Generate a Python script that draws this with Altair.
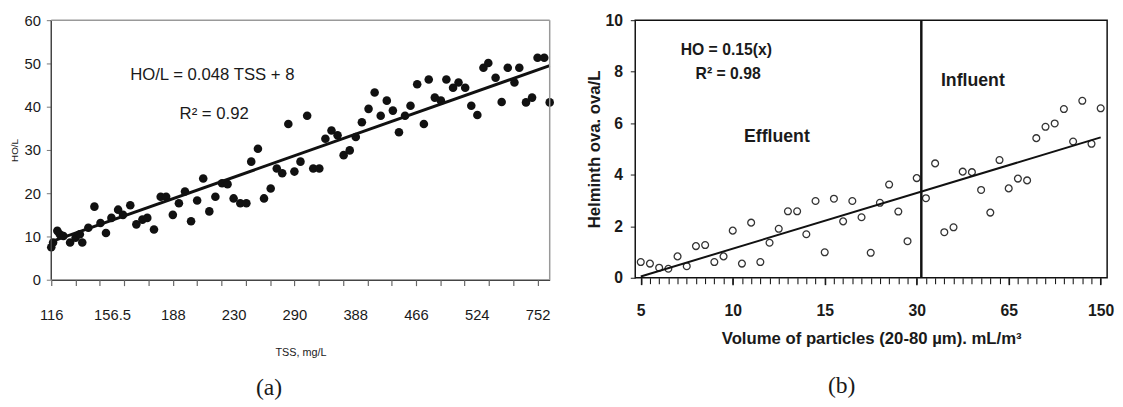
import json
import altair as alt
import pandas as pd

# ---------------- Panel (a): HO/L vs TSS ----------------
a_sample = [0.0, 0.3, 1.0, 1.4, 2.0, 3.1, 4.0, 4.7, 5.1, 6.1,
            7.1, 8.1, 9.0, 9.9, 11.0, 11.8, 13.0, 14.0, 15.0, 15.8,
            16.9, 18.0, 18.9, 20.0, 21.0, 22.0, 23.0, 24.0, 25.0, 26.0,
            27.0, 28.1, 29.0, 30.0, 31.1, 32.1, 32.9, 34.0, 35.0, 36.1,
            37.1, 38.0, 39.0, 40.0, 41.0, 42.1, 43.1, 44.1, 45.1, 46.1,
            47.1, 48.1, 49.1, 50.1, 51.1, 52.2, 53.2, 54.2, 55.2, 56.2,
            57.2, 58.2, 59.1, 60.2, 61.3, 62.1, 63.1, 64.1, 65.0, 66.1,
            67.0, 68.1, 69.1, 70.1, 71.1, 71.9, 73.1, 74.1, 75.1, 76.2,
            77.0, 78.1, 79.1, 80.0, 81.1, 82.0]
a_ho_per_l = [7.5, 8.6, 11.3, 10.5, 10.1, 8.6, 9.7, 10.5, 8.6, 12.0,
              16.9, 13.1, 10.8, 14.3, 16.2, 15.0, 17.2, 12.8, 13.9, 14.3,
              11.6, 19.2, 19.2, 15.0, 17.7, 20.4, 13.5, 18.3, 23.4, 15.8,
              19.2, 22.3, 22.1, 18.8, 17.7, 17.7, 27.3, 30.3, 18.8, 21.1,
              25.7, 24.6, 36.0, 25.0, 27.3, 37.9, 25.7, 25.7, 32.6, 34.5,
              33.4, 28.8, 29.9, 33.0, 36.4, 39.5, 43.3, 37.9, 41.4, 39.1,
              34.1, 37.9, 40.2, 45.2, 36.0, 46.3, 42.1, 41.4, 46.3, 44.4,
              45.6, 44.4, 40.2, 38.1, 49.0, 50.1, 46.7, 41.1, 49.0, 45.6,
              49.0, 41.0, 42.1, 51.3, 51.3, 41.0]
a_tss_labels = ["116", "156.5", "188", "230", "290", "388", "466", "524", "752"]
a_label_at = [0, 10, 20, 30, 40, 50, 60, 70, 80]
a_tick_at = list(range(0, 81, 4))
a_fit_sample = [0, 82]
a_fit_ho = [8.8, 49.5]
a_eq_text = ["HO/L = 0.048 TSS + 8", "R² = 0.92"]
a_eq_sample = [26.5, 26.8]
a_eq_ho = [47.4, 38.2]
a_x_max = 82
a_y_top = 60

# ---------------- Panel (b): Helminth ova vs particle volume ----------------
b_volume_labels = ["5", "10", "15", "30", "65", "150"]
b_label_at = [0, 10, 20, 30, 40, 50]
b_sample = list(range(51))
b_ova = [0.61, 0.55, 0.39, 0.35, 0.83, 0.45, 1.23, 1.27, 0.61, 0.83,
         1.83, 0.55, 2.14, 0.61, 1.36, 1.90, 2.58, 2.58, 1.69, 2.98,
         0.99, 3.07, 2.19, 2.98, 2.35, 0.97, 2.91, 3.62, 2.57, 1.42,
         3.87, 3.09, 4.44, 1.77, 1.96, 4.12, 4.10, 3.41, 2.53, 4.57,
         3.47, 3.85, 3.78, 5.42, 5.86, 5.99, 6.55, 5.29, 6.87, 5.20,
         6.58]
b_fit_sample = [0, 50]
b_fit_ova = [0.05, 5.45]
b_split_sample = 30.5
b_eq_text = ["HO = 0.15(x)", "R² = 0.98"]
b_eq_sample = [9.3, 9.5]
b_eq_ova = [8.83, 7.9]
b_zone_text = ["Effluent", "Influent"]
b_zone_sample = [14.8, 36.1]
b_zone_ova = [5.45, 7.63]

SANS = "Liberation Sans, Arial, sans-serif"
SERIF = "Liberation Serif, Times New Roman, serif"
INK = "#1a1a1a"

# ---------------- build panel (a) ----------------
xa = alt.Scale(domain=[0, a_x_max], nice=False, zero=False)
ya = alt.Scale(domain=[0, a_y_top], nice=False, zero=True)

a_label_expr = json.dumps(a_tss_labels) + "[round(datum.value / 10)]"

a_df = pd.DataFrame({"sample": a_sample, "ho": a_ho_per_l})
a_points = alt.Chart(a_df).mark_circle(size=76, color="#111111", opacity=1).encode(
    x=alt.X("sample:Q", scale=xa,
            axis=alt.Axis(values=a_label_at, labelExpr=a_label_expr, ticks=False, tickSize=0,
                          domain=True, domainColor="#444444", domainWidth=1.5, grid=False,
                          labelFont=SANS, labelFontSize=15, labelColor=INK, labelPadding=28,
                          labelFlush=False, labelOverlap=False, orient="bottom",
                          title="TSS, mg/L", titleFont=SANS, titleFontSize=11,
                          titleFontWeight="normal", titleColor=INK, titlePadding=25)),
    y=alt.Y("ho:Q", scale=ya,
            axis=alt.Axis(values=[0, 10, 20, 30, 40, 50, 60], domain=False, ticks=True, tickSize=5,
                          tickColor="#777777", grid=False, labelFont=SANS, labelFontSize=15,
                          labelColor=INK, labelPadding=6, labelFlush=False,
                          title="HO/L", titleFont=SANS, titleFontSize=10,
                          titleFontWeight="normal", titleColor=INK, titlePadding=5)),
)

a_fit = alt.Chart(pd.DataFrame({"sample": a_fit_sample, "ho": a_fit_ho})).mark_line(
    color="#111111", strokeWidth=3).encode(
    x=alt.X("sample:Q", scale=xa,
            axis=alt.Axis(values=a_tick_at, labels=False, ticks=True, tickSize=6,
                          tickColor="#666666", tickWidth=1.2, domain=False, grid=False,
                          title=None, orient="bottom")),
    y=alt.Y("ho:Q", scale=ya),
)

a_left = alt.Chart(pd.DataFrame({"sample": [0], "ho": [0], "ho2": [a_y_top]})).mark_rule(
    color="#444444", strokeWidth=1.5).encode(
    x=alt.X("sample:Q", scale=xa, axis=None),
    y=alt.Y("ho:Q", scale=ya), y2="ho2:Q")
a_right = alt.Chart(pd.DataFrame({"sample": [a_x_max], "ho": [0], "ho2": [a_y_top]})).mark_rule(
    color="#999999", strokeWidth=1.5).encode(
    x=alt.X("sample:Q", scale=xa, axis=None),
    y=alt.Y("ho:Q", scale=ya), y2="ho2:Q")
a_top = alt.Chart(pd.DataFrame({"sample": [0], "sample2": [a_x_max], "ho": [a_y_top]})).mark_rule(
    color="#999999", strokeWidth=1.5).encode(
    x=alt.X("sample:Q", scale=xa, axis=None), x2="sample2:Q",
    y=alt.Y("ho:Q", scale=ya))

a_eq = alt.Chart(pd.DataFrame({"sample": a_eq_sample, "ho": a_eq_ho, "t": a_eq_text})).mark_text(
    font=SANS, fontSize=17, color=INK, align="center", baseline="middle").encode(
    x=alt.X("sample:Q", scale=xa, axis=None),
    y=alt.Y("ho:Q", scale=ya), text="t:N")

panel_a = alt.layer(a_points, a_fit, a_left, a_right, a_top, a_eq).resolve_axis(
    x="independent").properties(
    width=507, height=264,
    view=alt.ViewBackground(stroke="transparent"),
    title=alt.TitleParams("(a)", orient="bottom", font=SERIF, fontSize=24, fontWeight="normal",
                          color=INK, offset=19, dx=-32),
)

# ---------------- build panel (b) ----------------
xb = alt.Scale(domain=[-0.6, 50.7], nice=False, zero=False)
yb = alt.Scale(domain=[0, 10], nice=False, zero=True)

b_label_expr = json.dumps(b_volume_labels) + "[round(datum.value / 10)]"

b_df = pd.DataFrame({"sample": b_sample, "ova": b_ova})
b_points = alt.Chart(b_df).mark_point(shape="circle", filled=False, size=48, color="#333333",
                                      strokeWidth=1.3, opacity=1).encode(
    x=alt.X("sample:Q", scale=xb,
            axis=alt.Axis(values=b_label_at, labelExpr=b_label_expr, tickSize=7, tickColor=INK,
                          tickWidth=1.6, domain=False, grid=False, labelFont=SANS,
                          labelFontWeight="bold", labelFontSize=16, labelColor=INK, labelPadding=18,
                          labelFlush=False, labelOverlap=False, orient="bottom",
                          title="Volume of particles (20-80 µm). mL/m³", titleFont=SANS,
                          titleFontSize=17, titleFontWeight="bold", titleColor=INK, titlePadding=13)),
    y=alt.Y("ova:Q", scale=yb,
            axis=alt.Axis(values=[0, 2, 4, 6, 8, 10], tickSize=5, tickColor=INK, domain=False,
                          grid=False, labelFont=SANS, labelFontWeight="bold", labelFontSize=16,
                          labelColor=INK, labelPadding=8, labelFlush=False,
                          title="Helminth ova. ova/L", titleFont=SANS, titleFontSize=17,
                          titleFontWeight="bold", titleColor=INK, titlePadding=2)),
)

b_fit = alt.Chart(pd.DataFrame({"sample": b_fit_sample, "ova": b_fit_ova})).mark_line(
    color="#111111", strokeWidth=2).encode(
    x=alt.X("sample:Q", scale=xb,
            axis=alt.Axis(values=b_sample, labels=False, ticks=True, tickSize=6, tickColor=INK,
                          tickWidth=1.1, domain=False, grid=False, title=None, orient="bottom")),
    y=alt.Y("ova:Q", scale=yb))

b_split = alt.Chart(pd.DataFrame({"sample": [b_split_sample], "ova": [0], "ova2": [10]})).mark_rule(
    color="#111111", strokeWidth=2.5).encode(
    x=alt.X("sample:Q", scale=xb, axis=None), y=alt.Y("ova:Q", scale=yb), y2="ova2:Q")

b_eq = alt.Chart(pd.DataFrame({"sample": b_eq_sample, "ova": b_eq_ova, "t": b_eq_text})).mark_text(
    font=SANS, fontWeight="bold", fontSize=16, color=INK, align="center", baseline="middle").encode(
    x=alt.X("sample:Q", scale=xb, axis=None), y=alt.Y("ova:Q", scale=yb), text="t:N")

b_zone = alt.Chart(pd.DataFrame({"sample": b_zone_sample, "ova": b_zone_ova, "t": b_zone_text})).mark_text(
    font=SANS, fontWeight="bold", fontSize=18, color=INK, align="center", baseline="middle").encode(
    x=alt.X("sample:Q", scale=xb, axis=None), y=alt.Y("ova:Q", scale=yb), text="t:N")

panel_b = alt.layer(b_points, b_fit, b_split, b_eq, b_zone).resolve_axis(
    x="independent").properties(
    width=480, height=262,
    view=alt.ViewBackground(stroke="#111111", strokeWidth=1.5),
    title=alt.TitleParams("(b)", orient="bottom", font=SERIF, fontSize=24, fontWeight="normal",
                          color=INK, offset=28, dx=-30),
)

chart = alt.hconcat(panel_a, panel_b, spacing=28).properties(
    padding={"left": 0, "top": 0, "right": 0, "bottom": 0}
).configure(background="white")

chart.save("out.html", embed_options={"renderer": "svg", "actions": False})
